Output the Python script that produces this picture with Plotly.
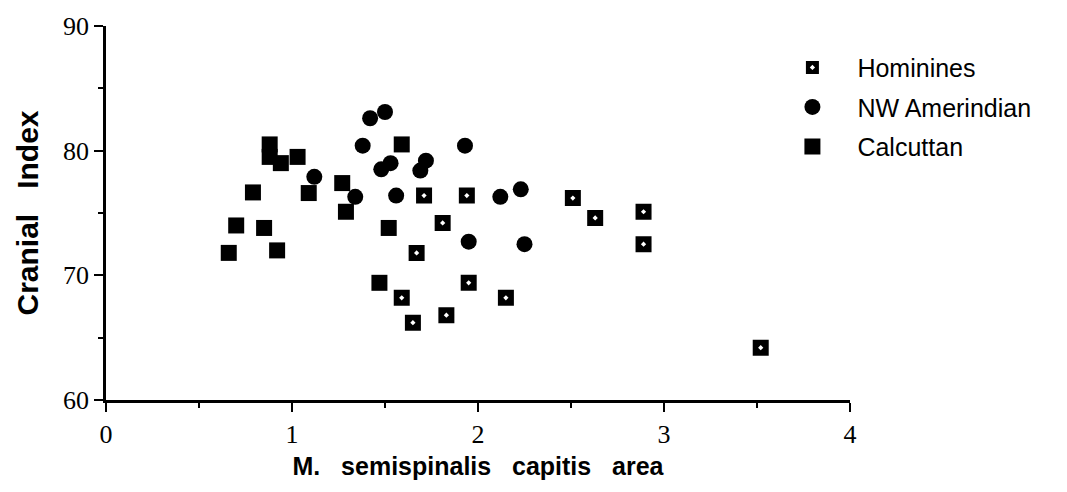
import plotly.graph_objects as go

# Muscle cross-sectional area (x) vs cranial index (y) for three samples
hominines_area = [1.71, 1.81, 1.67, 1.94, 2.51, 2.63, 2.89, 2.89, 1.59, 1.65, 1.83, 1.95, 2.15, 3.52]
hominines_ci = [76.4, 74.2, 71.8, 76.4, 76.2, 74.6, 75.1, 72.5, 68.2, 66.2, 66.8, 69.4, 68.2, 64.2]

amerindian_area = [1.12, 1.34, 1.38, 1.42, 1.50, 1.48, 1.53, 1.69, 1.72, 1.56, 1.93, 2.12, 2.23, 1.95, 2.25]
amerindian_ci = [77.9, 76.3, 80.4, 82.6, 83.1, 78.5, 79.0, 78.4, 79.2, 76.4, 80.4, 76.3, 76.9, 72.7, 72.5]

calcuttan_area = [0.66, 0.70, 0.79, 0.85, 0.92, 0.88, 0.88, 0.94, 1.03, 1.09, 1.27, 1.29, 1.59, 1.52, 1.47]
calcuttan_ci = [71.8, 74.0, 76.65, 73.8, 72.0, 80.5, 79.5, 79.0, 79.5, 76.6, 77.4, 75.1, 80.5, 73.8, 69.4]

x_ticks = [0, 1, 2, 3, 4]
y_ticks = [60, 70, 80, 90]

fig = go.Figure()

fig.add_trace(go.Scatter(
    x=hominines_area, y=hominines_ci, mode="markers", name="Hominines",
    legendgroup="a",
    marker=dict(symbol="square-dot", size=19, color="black",
                line=dict(color="white", width=3)),
))
fig.add_trace(go.Scatter(
    x=amerindian_area, y=amerindian_ci, mode="markers", name="NW Amerindian",
    legendgroup="b",
    marker=dict(symbol="circle", size=16, color="black", line=dict(width=0)),
))
fig.add_trace(go.Scatter(
    x=calcuttan_area, y=calcuttan_ci, mode="markers", name="Calcuttan",
    legendgroup="c",
    marker=dict(symbol="square", size=16, color="black", line=dict(width=0)),
))

axis_common = dict(
    showline=True, linecolor="black", linewidth=2.5,
    showgrid=False, zeroline=False,
    ticks="outside", tickcolor="black", tickwidth=2, ticklen=9,
    tickfont=dict(family="Liberation Serif", size=26, color="black"),
)

fig.update_xaxes(
    range=[0, 4], tickvals=x_ticks, ticktext=[str(v) for v in x_ticks],
    minor=dict(dtick=0.5, ticks="outside", ticklen=5, tickwidth=2, tickcolor="black"),
    title=dict(text="M.\u00a0\u00a0\u00a0semispinalis\u00a0\u00a0\u00a0capitis\u00a0\u00a0\u00a0area",
               font=dict(family="Liberation Sans", size=25, color="black", weight="bold"),
               standoff=10),
    **axis_common,
)
fig.update_yaxes(
    range=[60, 90], tickvals=y_ticks, ticktext=[str(v) for v in y_ticks],
    minor=dict(dtick=5, ticks="outside", ticklen=5, tickwidth=2, tickcolor="black"),
    title=dict(text="Cranial\u00a0\u00a0\u00a0Index",
               font=dict(family="Liberation Sans", size=30, color="black", weight="bold"),
               standoff=16),
    **axis_common,
)

fig.update_layout(
    width=1067, height=492,
    margin=dict(l=106, r=217, t=19, b=92),
    paper_bgcolor="white", plot_bgcolor="white",
    showlegend=True,
    legend=dict(
        x=0.889, y=0.95, xanchor="left", yanchor="top",
        font=dict(family="Liberation Sans", size=25, color="black"),
        bgcolor="rgba(0,0,0,0)", traceorder="grouped", tracegroupgap=4,
        itemwidth=80,
    ),
)

fig.write_html("out.html")
